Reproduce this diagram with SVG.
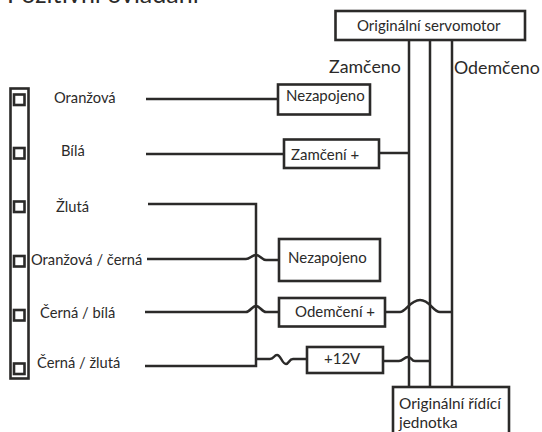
<svg xmlns="http://www.w3.org/2000/svg" width="542" height="432" viewBox="0 0 542 432">
<style>
text{font-family:Lato,"Open Sans","Liberation Sans",sans-serif;fill:#2b2a29;font-size:15px}
.l{font-size:14.7px}
.b{fill:#fff;stroke:#2b2a29;stroke-width:2.6}
.p{fill:none;stroke:#2b2a29;stroke-width:2.6}
.w{fill:none;stroke:#2b2a29;stroke-width:2.5}
.big{font-size:17.8px}
.title{font-size:25px}
</style>
<text x="7" y="3" class="title">Pozitivní ovládání</text>
<g id="connector-strip">
<rect x="10.500" y="88.500" width="18" height="290" class="p"/>
<rect x="14" y="94.500" width="10.500" height="10.500" class="p"/>
<rect x="14" y="148" width="10.500" height="10.500" class="p"/>
<rect x="14" y="201.500" width="10.500" height="10.500" class="p"/>
<rect x="14" y="256" width="10.500" height="10.500" class="p"/>
<rect x="14" y="310" width="10.500" height="10.500" class="p"/>
<rect x="14" y="363.500" width="10.500" height="10.500" class="p"/>
</g>
<g id="connectors">
<path class="w" d="M146 99H278M146 154H284M148 204H256V366H145"/>
<path class="w" d="M147 259H246C250 259 252 255 256 255S262 260 266 260H279"/>
<path class="w" d="M145 312H246C250 312 252 306 256 306S262 312 266 312H279"/>
<path class="w" d="M256 359H270C274 359 274 355 277 355C281 355 282 364 286 364C289 364 289 359 293 359H307"/>
<path class="w" d="M379 153H409"/>
<path class="w" d="M385 312H400C406 312 410 300 420 300S433 312 440 312H452"/>
<path class="w" d="M383 361H399C403 361 404 357 408 357S411 361 415 361H430"/>
<path class="w" d="M409 39V387M430 39V387M452 39V387"/>
</g>
<g id="servomotor"><rect x="335.500" y="11" width="189.500" height="29" class="b"/><text x="357" y="31">Originální servomotor</text></g>
<g id="nezapojeno-1"><rect x="278" y="84.500" width="92" height="30" class="b"/><text x="286" y="101">Nezapojeno</text></g>
<g id="zamceni"><rect x="284" y="139.500" width="95" height="28.500" class="b"/><text x="291" y="160">Zamčení +</text></g>
<g id="nezapojeno-2"><rect x="279" y="239" width="101" height="42" class="b"/><text x="288" y="263">Nezapojeno</text></g>
<g id="odemceni"><rect x="279" y="298" width="106" height="28.500" class="b"/><text x="295" y="317">Odemčení +</text></g>
<g id="v12"><rect x="307" y="347" width="76" height="26" class="b"/><text x="324" y="364">+12V</text></g>
<g id="ridici"><rect x="393" y="387" width="116" height="50" class="b"/><text x="399" y="409" style="font-size:15.400px">Originální řídící</text><text x="399" y="428" style="font-size:15.400px">jednotka</text></g>
<text x="329" y="73" class="big">Zamčeno</text>
<text x="454" y="74" class="big">Odemčeno</text>
<text x="54" y="103" class="l">Oranžová</text>
<text x="61" y="156" class="l">Bílá</text>
<text x="56" y="212" class="l">Žlutá</text>
<text x="31" y="265" class="l">Oranžová / černá</text>
<text x="40" y="318" class="l">Černá / bílá</text>
<text x="37" y="368" class="l">Černá / žlutá</text>
</svg>
